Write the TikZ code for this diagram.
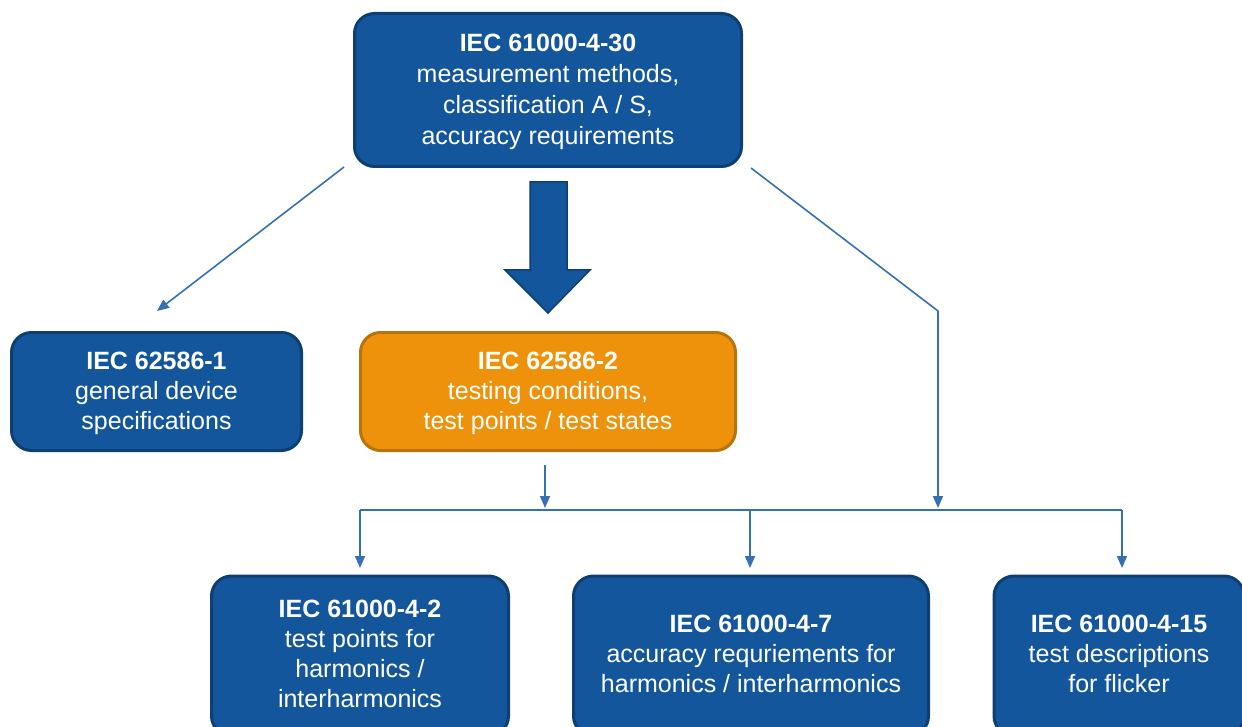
\documentclass[tikz,border=0pt]{standalone}
\usepackage{fontspec}
\setmainfont{Liberation Sans}
\usetikzlibrary{arrows.meta}
\definecolor{boxblue}{HTML}{14569B}
\definecolor{boxblueedge}{HTML}{0E3F72}
\definecolor{boxorange}{HTML}{EE920B}
\definecolor{boxorangeedge}{HTML}{B8730A}
\definecolor{linkblue}{HTML}{3471B3}
\tikzset{
  stdbox/.style={rectangle, rounded corners=20pt, draw=boxblueedge, fill=boxblue,
    line width=3pt, text=white, align=center, inner sep=0pt,
    font=\fontsize{25}{30.5}\selectfont},
  orangebox/.style={stdbox, draw=boxorangeedge, fill=boxorange},
  boxtext/.style={text=white, align=center, inner sep=0pt, font=\fontsize{25}{30}\selectfont},
  conn/.style={draw=linkblue, line width=1.6pt},
  connarrow/.style={conn, -{Triangle[length=12pt,width=10pt]}},
}
\begin{document}
\begin{tikzpicture}[x=1pt,y=-1pt]
\useasboundingbox (0,0) rectangle (1242,727);

\node[stdbox, minimum width=387pt, minimum height=153pt] (top) at (548,90) {};
\node[boxtext, font=\fontsize{25}{31}\selectfont] (topt) at (548,92)
  {\textbf{IEC 61000-4-30}\\measurement methods,\\classification A / S,\\accuracy requirements};
\node[stdbox, minimum width=290pt, minimum height=118pt] (left) at (156.5,391.5) {};
\node[boxtext] (leftt) at (156.5,393)
  {\textbf{IEC 62586-1}\\general device\\specifications};
\node[orangebox, minimum width=375pt, minimum height=118pt] (mid) at (548,391.5) {};
\node[boxtext] (midt) at (548,393)
  {\textbf{IEC 62586-2}\\testing conditions,\\test points / test states};
\node[stdbox, minimum width=297pt, minimum height=160pt] (b1) at (360,656) {};
\node[boxtext] (b1t) at (360,654)
  {\textbf{IEC 61000-4-2}\\test points for\\harmonics /\\interharmonics};
\node[stdbox, minimum width=355pt, minimum height=160pt] (b2) at (751,656) {};
\node[boxtext] (b2t) at (751,654)
  {\textbf{IEC 61000-4-7}\\accuracy requriements for\\harmonics / interharmonics};
\node[stdbox, minimum width=250pt, minimum height=160pt] (b3) at (1119,656) {};
\node[boxtext] (b3t) at (1119,654)
  {\textbf{IEC 61000-4-15}\\test descriptions\\for flicker};

% big arrow
\draw[draw=boxblueedge, fill=boxblue, line width=1.5pt]
  (530,182) -- (567,182) -- (567,270) -- (590,270) -- (548,313) -- (505,270) -- (530,270) -- cycle;

% coordinates
\coordinate (lstart) at (344,167);
\coordinate (lend) at (157,311);
\coordinate (rstart) at (751,168);
\coordinate (rbend) at (938,311);
\coordinate (rend) at (938,508);
\coordinate (mstart) at (545,465);
\coordinate (mend) at (545,508);
\coordinate (busL) at (360,510);
\coordinate (busM) at (750,510);
\coordinate (busR) at (1122,510);
\coordinate (dL) at (360,568);
\coordinate (dM) at (750,568);
\coordinate (dR) at (1122,568);

\draw[connarrow] (lstart) -- (lend);
\draw[connarrow] (rstart) -- (rbend) -- (rend);
\draw[connarrow] (mstart) -- (mend);
\draw[conn] (busL) -- (busR);
\draw[connarrow] (busL) -- (dL);
\draw[connarrow] (busM) -- (dM);
\draw[connarrow] (busR) -- (dR);
\end{tikzpicture}
\end{document}
